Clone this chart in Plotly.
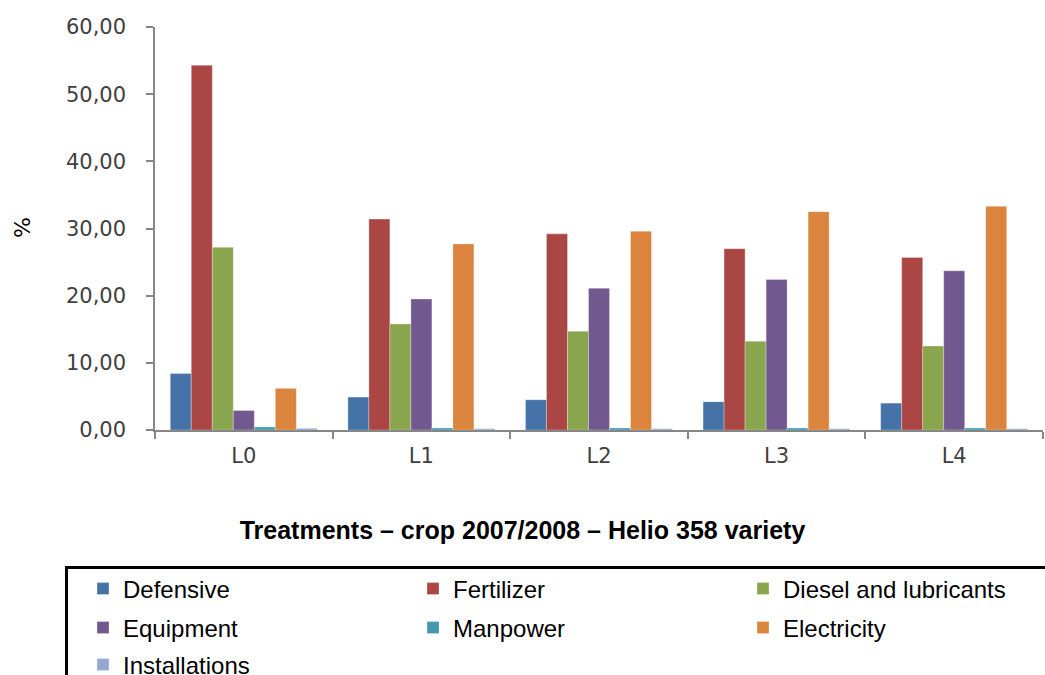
import plotly.graph_objects as go

categories = ["L0", "L1", "L2", "L3", "L4"]
defensive = [8.4, 4.9, 4.5, 4.2, 4.0]
fertilizer = [54.3, 31.4, 29.2, 27.0, 25.7]
diesel = [27.2, 15.8, 14.7, 13.2, 12.5]
equipment = [2.9, 19.5, 21.1, 22.4, 23.7]
manpower = [0.45, 0.3, 0.3, 0.3, 0.3]
electricity = [6.2, 27.7, 29.6, 32.5, 33.3]
installations = [0.25, 0.2, 0.2, 0.2, 0.2]

series_names = ["Defensive", "Fertilizer", "Diesel and lubricants", "Equipment",
                "Manpower", "Electricity", "Installations"]
series_values = [defensive, fertilizer, diesel, equipment, manpower, electricity, installations]
colors = ["#4572A7", "#AA4643", "#89A54E", "#71588F", "#4198AF", "#DB843D", "#93A9CF"]
legend_ids = ["legend", "legend", "legend", "legend2", "legend2", "legend2", "legend3"]

W, H = 1045, 675
L, R, T, B = 155, 2, 27, 245
pw = W - L - R
ph = H - T - B


def px_to_paper_x(px):
    return (px - L) / pw


def py_to_paper_y(py):
    return (H - B - py) / ph


fig = go.Figure()
for name, vals, col, lg in zip(series_names, series_values, colors, legend_ids):
    fig.add_trace(go.Bar(
        x=categories, y=vals, name=name, legend=lg,
        marker=dict(color=col, line=dict(color="rgba(255,255,255,0.6)", width=0.5)),
    ))

tick_font = dict(family="DejaVu Sans", size=21, color="#404040")
legend_font = dict(family="Liberation Sans, Arial", size=24, color="#000000")

legend_common = dict(orientation="h", xanchor="left", yanchor="middle",
                     x=px_to_paper_x(83), entrywidth=285, entrywidthmode="pixels",
                     font=legend_font, bgcolor="rgba(0,0,0,0)", borderwidth=0)

fig.update_layout(
    width=W, height=H,
    margin=dict(l=L, r=R, t=T, b=B, autoexpand=False),
    paper_bgcolor="white", plot_bgcolor="white",
    separators=", ",
    barmode="group", bargap=0.172, bargroupgap=0,
    title=dict(text="<b>Treatments – crop 2007/2008 – Helio 358 variety</b>",
               x=0.5, xref="container", xanchor="center",
               y=1 - 530 / H, yref="container", yanchor="middle",
               font=dict(family="Liberation Sans, Arial", size=25, color="#000000")),
    xaxis=dict(type="category", showline=True, linecolor="#868686", linewidth=1.5,
               ticks="outside", tickson="boundaries", ticklen=7, tickcolor="#868686",
               tickwidth=1.5, tickfont=tick_font, showgrid=False, ticklabelstandoff=6),
    yaxis=dict(range=[0, 60], dtick=10, tick0=0, tickformat=".2f",
               showline=True, linecolor="#868686", linewidth=1.5,
               ticks="outside", ticklen=7, tickcolor="#868686", tickwidth=1.5,
               tickfont=tick_font, showgrid=False, zeroline=False, ticklabelstandoff=16),
    legend=dict(y=py_to_paper_y(589), **legend_common),
    legend2=dict(y=py_to_paper_y(628), **legend_common),
    legend3=dict(y=py_to_paper_y(665), **legend_common),
    annotations=[dict(text="%", xref="paper", yref="paper",
                      x=px_to_paper_x(22), y=py_to_paper_y(228),
                      xanchor="center", yanchor="middle", textangle=-90, showarrow=False,
                      font=dict(family="DejaVu Sans", size=22, color="#000000"))],
    shapes=[dict(type="rect", xref="paper", yref="paper",
                 x0=px_to_paper_x(66.5), x1=px_to_paper_x(1100),
                 y0=py_to_paper_y(760), y1=py_to_paper_y(567.5),
                 line=dict(color="#000000", width=3), fillcolor="rgba(0,0,0,0)")],
)

fig.write_html("out.html", config={"displayModeBar": False},
               post_script="document.body.style.margin='0';")
